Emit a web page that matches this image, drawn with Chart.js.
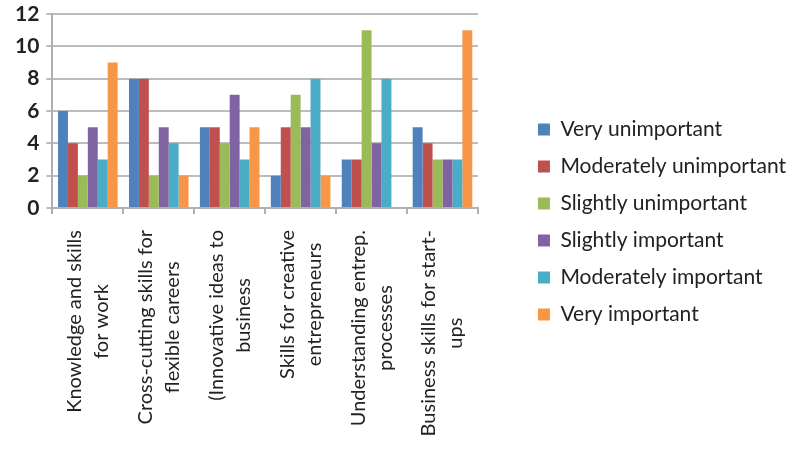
<!DOCTYPE html>
<html>
<head>
<meta charset="utf-8">
<script src="https://cdn.jsdelivr.net/npm/chart.js@4"></script>
<style>
  html, body { margin: 0; padding: 0; background: #fff; }
  #wrap { width: 800px; height: 452px; }
</style>
</head>
<body>
<div id="wrap"><canvas id="chart1"></canvas></div>
<script>
let categories = [
  ['Knowledge and skills', 'for work'],
  ['Cross-cutting skills for', 'flexible careers'],
  ['(Innovative ideas to', 'business'],
  ['Skills for creative', 'entrepreneurs'],
  ['Understanding entrep.', 'processes'],
  ['Business skills for start-', 'ups']
];

let veryUnimportant = [6, 8, 5, 2, 3, 5];
let moderatelyUnimportant = [4, 8, 5, 5, 3, 4];
let slightlyUnimportant = [2, 2, 4, 7, 11, 3];
let slightlyImportant = [5, 5, 7, 5, 4, 3];
let moderatelyImportant = [3, 4, 3, 8, 8, 3];
let veryImportant = [9, 2, 5, 2, 0, 11];

let seriesNames = ['Very unimportant', 'Moderately unimportant', 'Slightly unimportant',
  'Slightly important', 'Moderately important', 'Very important'];
let seriesColors = ['#4F81BD', '#C0504D', '#9BBB59', '#8064A2', '#4BACC6', '#F79646'];
let yTicks = [0, 2, 4, 6, 8, 10, 12];

let seriesData = [veryUnimportant, moderatelyUnimportant, slightlyUnimportant,
  slightlyImportant, moderatelyImportant, veryImportant];

const LABEL_FONT = { family: 'Lato', size: 20 };
const LABEL_GAP = 22;     // from axis line to top of the category labels
const BOTTOM_PAD = 22;    // lifts the legend; labels run into this strip
const X_AXIS_HEIGHT = 244 - BOTTOM_PAD;

let datasets = [];
for (var i = 0; i < seriesNames.length; i++) {
  datasets.push({
    label: seriesNames[i],
    data: seriesData[i],
    backgroundColor: seriesColors[i],
    borderWidth: 0,
    categoryPercentage: 0.84,
    barPercentage: 1.0
  });
}

// category labels: Chart.js right-aligns rotated lines, the original centres them
const centeredLabels = {
  id: 'centeredLabels',
  afterDraw(chart) {
    var xScale = chart.scales.x;
    var c = chart.ctx;
    var lineH = 27;
    var top = xScale.top + LABEL_GAP;
    c.save();
    c.font = LABEL_FONT.size + 'px ' + LABEL_FONT.family;
    c.fillStyle = '#222';
    c.textAlign = 'center';
    c.textBaseline = 'middle';
    categories.forEach(function(lines, i) {
      var cx = xScale.getPixelForValue(i);
      var maxW = Math.max.apply(null, lines.map(function(l) { return c.measureText(l).width; }));
      lines.forEach(function(line, j) {
        var lx = cx + (j - (lines.length - 1) / 2) * lineH;
        c.save();
        c.translate(lx, top + maxW / 2);
        c.rotate(-Math.PI / 2);
        c.fillText(line, 0, 0);
        c.restore();
      });
    });
    c.restore();
  }
};

var ctx = document.getElementById('chart1').getContext('2d');
var myChart = new Chart(ctx, {
  type: 'bar',
  data: {
    labels: categories,
    datasets: datasets
  },
  plugins: [centeredLabels],
  options: {
    responsive: true,
    maintainAspectRatio: false,
    animation: false,
    layout: {
      padding: { top: 14, left: 8, right: 4, bottom: BOTTOM_PAD }
    },
    plugins: {
      tooltip: { enabled: false },
      legend: {
        position: 'right',
        align: 'center',
        maxWidth: 330,
        labels: {
          color: '#222',
          font: { family: 'Lato', size: 21 },
          boxWidth: 12,
          boxHeight: 12,
          padding: 16
        }
      }
    },
    scales: {
      x: {
        offset: true,
        grid: {
          offset: true,
          drawOnChartArea: false,
          drawTicks: true,
          tickLength: 6,
          color: '#b0b0b0',
          lineWidth: 2
        },
        border: { color: '#b0b0b0', width: 2 },
        ticks: {
          display: false,
          autoSkip: false
        },
        afterFit: function(scale) { scale.height = X_AXIS_HEIGHT; }
      },
      y: {
        min: 0,
        max: 12,
        afterBuildTicks: function(scale) {
          scale.ticks = yTicks.map(function(v) { return { value: v }; });
        },
        afterFit: function(scale) { scale.paddingTop = 0; },
        grid: {
          color: '#bcbcbc',
          lineWidth: 2,
          tickLength: 6
        },
        border: { color: '#b0b0b0', width: 2 },
        ticks: {
          color: '#222',
          font: { family: 'Lato', size: 21, weight: 'bold' },
          padding: 7
        }
      },
      gap: {
        position: 'right',
        display: true,
        grid: { display: false },
        border: { display: false },
        ticks: { display: false },
        afterFit: function(scale) { scale.width = 44; }
      }
    }
  }
});
</script>
</body>
</html>
